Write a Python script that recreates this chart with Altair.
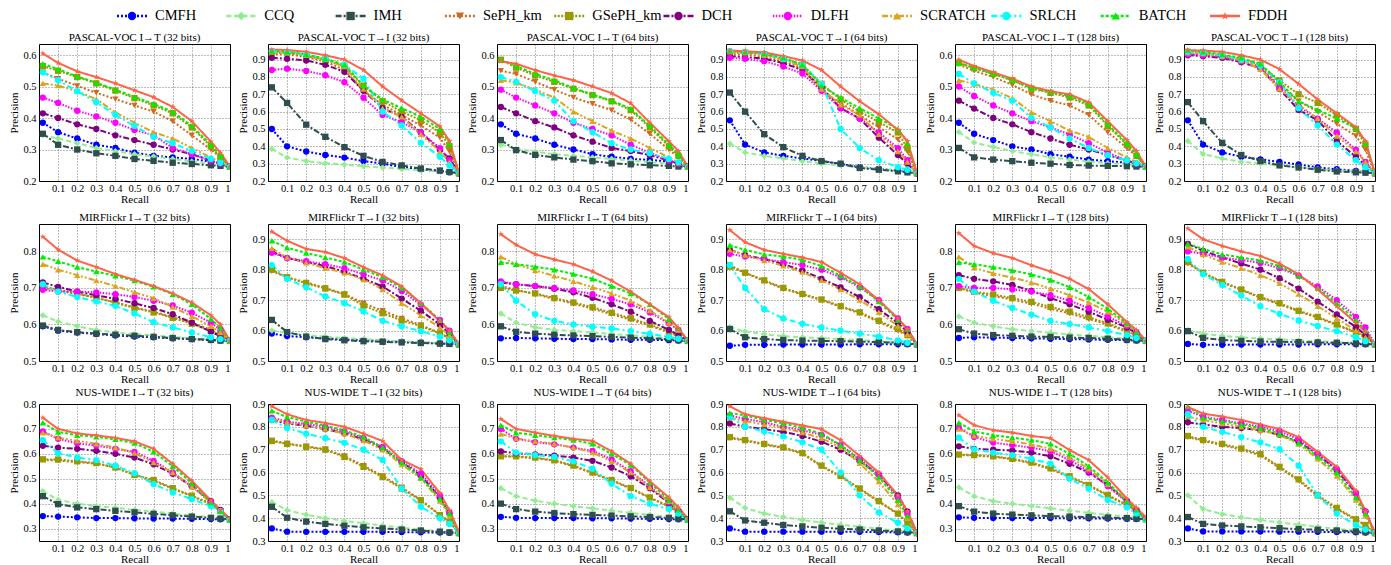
import altair as alt
import pandas as pd

methods = ["CMFH", "CCQ", "IMH", "SePH_km", "GSePH_km", "DCH", "DLFH", "SCRATCH", "SRLCH", "BATCH", "FDDH"]
colors = ["#0000FF", "#90EE90", "#2F4F4F", "#D2691E", "#999900", "#800080", "#FF00FF", "#DAA520", "#00FFFF", "#00EE00", "#FF6347"]
dashes = [[2, 2], [5, 3], [6, 2, 2, 2], [2, 2], [2, 1.5], [6, 2, 2, 2], [1.5, 1.5], [6, 2, 2, 2, 2, 2], [6, 3, 2, 3], [3, 2], [1, 0]]
STAR = "M0,-1L0.235,-0.324L0.951,-0.309L0.38,0.124L0.588,0.809L0,0.4L-0.588,0.809L-0.38,0.124L-0.951,-0.309L-0.235,-0.324Z"
shapes = ["circle", "diamond", "square", "triangle-down", "square", "circle", "circle", "triangle-up", "circle", "triangle-up", STAR]

recall = [0.02, 0.1, 0.2, 0.3, 0.4, 0.5, 0.6, 0.7, 0.8, 0.9, 0.95, 1.0]
x_ticks = [0.1, 0.2, 0.3, 0.4, 0.5, 0.6, 0.7, 0.8, 0.9, 1.0]

# ---------------- PASCAL-VOC ----------------
pascal_i2t_32 = {
    "CMFH": [0.385, 0.355, 0.335, 0.315, 0.305, 0.29, 0.28, 0.275, 0.27, 0.262, 0.255, 0.245],
    "CCQ": [0.345, 0.335, 0.32, 0.305, 0.295, 0.285, 0.278, 0.27, 0.262, 0.255, 0.25, 0.245],
    "IMH": [0.35, 0.315, 0.3, 0.288, 0.28, 0.27, 0.264, 0.258, 0.254, 0.25, 0.248, 0.245],
    "SePH_km": [0.545, 0.525, 0.502, 0.48, 0.46, 0.44, 0.42, 0.39, 0.345, 0.3, 0.275, 0.245],
    "GSePH_km": [0.565, 0.55, 0.53, 0.51, 0.487, 0.463, 0.44, 0.415, 0.37, 0.31, 0.275, 0.245],
    "DCH": [0.415, 0.4, 0.38, 0.365, 0.345, 0.33, 0.315, 0.3, 0.285, 0.265, 0.255, 0.245],
    "DLFH": [0.465, 0.448, 0.423, 0.405, 0.385, 0.362, 0.345, 0.305, 0.285, 0.265, 0.255, 0.245],
    "SCRATCH": [0.51, 0.503, 0.485, 0.46, 0.418, 0.385, 0.355, 0.335, 0.305, 0.275, 0.26, 0.245],
    "SRLCH": [0.545, 0.52, 0.485, 0.45, 0.41, 0.375, 0.34, 0.32, 0.295, 0.27, 0.258, 0.245],
    "BATCH": [0.572, 0.555, 0.532, 0.512, 0.49, 0.467, 0.445, 0.42, 0.375, 0.315, 0.28, 0.245],
    "FDDH": [0.605, 0.575, 0.548, 0.53, 0.51, 0.488, 0.466, 0.435, 0.39, 0.325, 0.29, 0.245],
}
pascal_t2i_32 = {
    "CMFH": [0.5, 0.4, 0.37, 0.35, 0.335, 0.315, 0.3, 0.28, 0.268, 0.258, 0.25, 0.245],
    "CCQ": [0.385, 0.335, 0.315, 0.302, 0.295, 0.285, 0.278, 0.27, 0.262, 0.255, 0.25, 0.245],
    "IMH": [0.74, 0.65, 0.525, 0.455, 0.395, 0.345, 0.31, 0.29, 0.272, 0.26, 0.252, 0.245],
    "SePH_km": [0.93, 0.93, 0.915, 0.89, 0.84, 0.72, 0.64, 0.58, 0.52, 0.45, 0.37, 0.245],
    "GSePH_km": [0.94, 0.94, 0.92, 0.9, 0.86, 0.75, 0.66, 0.6, 0.55, 0.48, 0.4, 0.245],
    "DCH": [0.91, 0.905, 0.895, 0.87, 0.83, 0.72, 0.62, 0.57, 0.48, 0.38, 0.33, 0.245],
    "DLFH": [0.84, 0.848, 0.835, 0.81, 0.77, 0.68, 0.58, 0.54, 0.48, 0.39, 0.32, 0.245],
    "SCRATCH": [0.945, 0.94, 0.925, 0.9, 0.86, 0.73, 0.62, 0.57, 0.47, 0.37, 0.31, 0.245],
    "SRLCH": [0.95, 0.945, 0.93, 0.905, 0.87, 0.79, 0.6, 0.52, 0.42, 0.34, 0.29, 0.245],
    "BATCH": [0.95, 0.945, 0.93, 0.905, 0.87, 0.75, 0.67, 0.62, 0.57, 0.5, 0.42, 0.245],
    "FDDH": [0.958, 0.955, 0.945, 0.925, 0.9, 0.84, 0.745, 0.665, 0.59, 0.515, 0.43, 0.245],
}
pascal_i2t_64 = {
    "CMFH": [0.38, 0.35, 0.335, 0.315, 0.3, 0.285, 0.277, 0.27, 0.267, 0.262, 0.255, 0.245],
    "CCQ": [0.315, 0.302, 0.293, 0.285, 0.28, 0.275, 0.27, 0.265, 0.26, 0.255, 0.25, 0.245],
    "IMH": [0.33, 0.298, 0.283, 0.275, 0.268, 0.263, 0.256, 0.253, 0.25, 0.248, 0.246, 0.245],
    "SePH_km": [0.55, 0.54, 0.515, 0.49, 0.465, 0.445, 0.425, 0.395, 0.35, 0.3, 0.275, 0.245],
    "GSePH_km": [0.585, 0.56, 0.535, 0.515, 0.493, 0.473, 0.453, 0.425, 0.37, 0.31, 0.28, 0.245],
    "DCH": [0.435, 0.415, 0.39, 0.37, 0.345, 0.325, 0.305, 0.295, 0.282, 0.265, 0.255, 0.245],
    "DLFH": [0.49, 0.465, 0.44, 0.415, 0.385, 0.365, 0.345, 0.315, 0.29, 0.265, 0.255, 0.245],
    "SCRATCH": [0.52, 0.512, 0.49, 0.465, 0.42, 0.39, 0.36, 0.335, 0.305, 0.275, 0.258, 0.245],
    "SRLCH": [0.53, 0.515, 0.485, 0.455, 0.39, 0.355, 0.32, 0.3, 0.288, 0.27, 0.26, 0.245],
    "BATCH": [0.585, 0.565, 0.54, 0.52, 0.495, 0.475, 0.455, 0.43, 0.375, 0.315, 0.285, 0.245],
    "FDDH": [0.58, 0.572, 0.552, 0.535, 0.52, 0.5, 0.479, 0.447, 0.385, 0.326, 0.295, 0.245],
}
pascal_t2i_64 = {
    "CMFH": [0.55, 0.41, 0.365, 0.345, 0.33, 0.315, 0.298, 0.28, 0.27, 0.26, 0.252, 0.245],
    "CCQ": [0.415, 0.365, 0.345, 0.33, 0.315, 0.3, 0.29, 0.28, 0.27, 0.26, 0.252, 0.245],
    "IMH": [0.71, 0.6, 0.47, 0.395, 0.345, 0.315, 0.3, 0.275, 0.265, 0.256, 0.25, 0.245],
    "SePH_km": [0.93, 0.93, 0.915, 0.89, 0.85, 0.72, 0.65, 0.58, 0.51, 0.44, 0.37, 0.245],
    "GSePH_km": [0.94, 0.94, 0.93, 0.905, 0.87, 0.76, 0.67, 0.6, 0.54, 0.48, 0.39, 0.245],
    "DCH": [0.92, 0.915, 0.905, 0.88, 0.84, 0.74, 0.62, 0.56, 0.45, 0.35, 0.3, 0.245],
    "DLFH": [0.91, 0.905, 0.89, 0.86, 0.82, 0.72, 0.62, 0.56, 0.48, 0.39, 0.32, 0.245],
    "SCRATCH": [0.945, 0.94, 0.925, 0.9, 0.86, 0.73, 0.64, 0.58, 0.47, 0.37, 0.31, 0.245],
    "SRLCH": [0.95, 0.945, 0.935, 0.905, 0.87, 0.76, 0.5, 0.39, 0.32, 0.28, 0.265, 0.245],
    "BATCH": [0.95, 0.945, 0.935, 0.91, 0.87, 0.75, 0.68, 0.62, 0.56, 0.5, 0.42, 0.245],
    "FDDH": [0.952, 0.948, 0.942, 0.92, 0.895, 0.84, 0.745, 0.66, 0.585, 0.495, 0.43, 0.245],
}
pascal_i2t_128 = {
    "CMFH": [0.385, 0.35, 0.33, 0.31, 0.3, 0.285, 0.277, 0.268, 0.263, 0.258, 0.252, 0.245],
    "CCQ": [0.355, 0.322, 0.308, 0.295, 0.285, 0.275, 0.268, 0.262, 0.257, 0.253, 0.25, 0.245],
    "IMH": [0.305, 0.275, 0.268, 0.263, 0.258, 0.255, 0.251, 0.249, 0.248, 0.247, 0.246, 0.245],
    "SePH_km": [0.57, 0.55, 0.53, 0.505, 0.475, 0.455, 0.44, 0.41, 0.355, 0.305, 0.278, 0.245],
    "GSePH_km": [0.575, 0.558, 0.54, 0.52, 0.493, 0.48, 0.465, 0.44, 0.375, 0.315, 0.28, 0.245],
    "DCH": [0.455, 0.43, 0.4, 0.38, 0.355, 0.335, 0.315, 0.3, 0.282, 0.265, 0.255, 0.245],
    "DLFH": [0.5, 0.47, 0.44, 0.415, 0.39, 0.37, 0.348, 0.32, 0.29, 0.265, 0.255, 0.245],
    "SCRATCH": [0.52, 0.508, 0.49, 0.463, 0.418, 0.39, 0.36, 0.34, 0.305, 0.275, 0.26, 0.245],
    "SRLCH": [0.54, 0.51, 0.48, 0.455, 0.4, 0.37, 0.335, 0.305, 0.282, 0.265, 0.256, 0.245],
    "BATCH": [0.575, 0.56, 0.54, 0.52, 0.495, 0.483, 0.47, 0.445, 0.38, 0.32, 0.285, 0.245],
    "FDDH": [0.585, 0.565, 0.545, 0.525, 0.5, 0.485, 0.475, 0.45, 0.39, 0.33, 0.295, 0.245],
}
pascal_t2i_128 = {
    "CMFH": [0.55, 0.41, 0.365, 0.34, 0.325, 0.31, 0.295, 0.278, 0.268, 0.258, 0.25, 0.245],
    "CCQ": [0.43, 0.355, 0.33, 0.31, 0.3, 0.29, 0.28, 0.27, 0.262, 0.255, 0.25, 0.245],
    "IMH": [0.655, 0.545, 0.42, 0.35, 0.315, 0.29, 0.278, 0.265, 0.255, 0.25, 0.248, 0.245],
    "SePH_km": [0.935, 0.93, 0.915, 0.895, 0.86, 0.75, 0.66, 0.6, 0.53, 0.46, 0.38, 0.245],
    "GSePH_km": [0.945, 0.94, 0.925, 0.905, 0.87, 0.78, 0.7, 0.65, 0.58, 0.5, 0.41, 0.245],
    "DCH": [0.925, 0.92, 0.91, 0.885, 0.85, 0.73, 0.61, 0.55, 0.43, 0.34, 0.29, 0.245],
    "DLFH": [0.93, 0.925, 0.915, 0.89, 0.85, 0.74, 0.63, 0.56, 0.48, 0.38, 0.31, 0.245],
    "SCRATCH": [0.94, 0.935, 0.92, 0.895, 0.845, 0.73, 0.64, 0.56, 0.46, 0.37, 0.31, 0.245],
    "SRLCH": [0.945, 0.94, 0.925, 0.9, 0.865, 0.77, 0.62, 0.52, 0.41, 0.32, 0.28, 0.245],
    "BATCH": [0.955, 0.945, 0.93, 0.91, 0.875, 0.77, 0.66, 0.61, 0.56, 0.505, 0.42, 0.245],
    "FDDH": [0.955, 0.952, 0.945, 0.925, 0.9, 0.845, 0.76, 0.67, 0.59, 0.51, 0.43, 0.245],
}

# ---------------- MIRFlickr ----------------
mir_i2t_32 = {
    "CMFH": [0.595, 0.583, 0.578, 0.574, 0.57, 0.567, 0.565, 0.562, 0.56, 0.557, 0.556, 0.555],
    "CCQ": [0.625, 0.608, 0.595, 0.585, 0.578, 0.574, 0.57, 0.566, 0.562, 0.559, 0.557, 0.555],
    "IMH": [0.597, 0.585, 0.579, 0.575, 0.572, 0.569, 0.566, 0.563, 0.56, 0.558, 0.556, 0.555],
    "SePH_km": [0.7, 0.693, 0.683, 0.673, 0.66, 0.647, 0.635, 0.62, 0.605, 0.585, 0.572, 0.555],
    "GSePH_km": [0.705, 0.695, 0.685, 0.673, 0.66, 0.645, 0.633, 0.618, 0.602, 0.583, 0.57, 0.555],
    "DCH": [0.715, 0.703, 0.69, 0.68, 0.67, 0.658, 0.645, 0.628, 0.605, 0.58, 0.568, 0.555],
    "DLFH": [0.695, 0.69, 0.69, 0.688, 0.683, 0.675, 0.665, 0.652, 0.632, 0.605, 0.585, 0.555],
    "SCRATCH": [0.765, 0.75, 0.735, 0.72, 0.705, 0.688, 0.672, 0.648, 0.622, 0.595, 0.578, 0.555],
    "SRLCH": [0.71, 0.69, 0.675, 0.663, 0.651, 0.63, 0.606, 0.592, 0.578, 0.565, 0.56, 0.555],
    "BATCH": [0.785, 0.773, 0.757, 0.745, 0.733, 0.72, 0.703, 0.683, 0.655, 0.615, 0.59, 0.555],
    "FDDH": [0.84, 0.805, 0.775, 0.757, 0.738, 0.722, 0.705, 0.685, 0.66, 0.625, 0.6, 0.555],
}
mir_t2i_32 = {
    "CMFH": [0.59, 0.582, 0.578, 0.574, 0.571, 0.568, 0.565, 0.563, 0.561, 0.558, 0.556, 0.555],
    "CCQ": [0.6, 0.592, 0.585, 0.58, 0.575, 0.572, 0.568, 0.565, 0.562, 0.559, 0.557, 0.555],
    "IMH": [0.635, 0.595, 0.58, 0.572, 0.568, 0.565, 0.563, 0.561, 0.559, 0.557, 0.556, 0.555],
    "SePH_km": [0.795, 0.775, 0.758, 0.74, 0.72, 0.69, 0.665, 0.64, 0.618, 0.592, 0.575, 0.555],
    "GSePH_km": [0.8, 0.775, 0.755, 0.738, 0.718, 0.682, 0.657, 0.633, 0.615, 0.59, 0.575, 0.555],
    "DCH": [0.86, 0.838, 0.825, 0.812, 0.793, 0.77, 0.745, 0.705, 0.665, 0.62, 0.59, 0.555],
    "DLFH": [0.855, 0.838, 0.828, 0.818, 0.805, 0.785, 0.765, 0.73, 0.685, 0.635, 0.6, 0.555],
    "SCRATCH": [0.87, 0.84, 0.823, 0.805, 0.79, 0.768, 0.735, 0.69, 0.65, 0.61, 0.585, 0.555],
    "SRLCH": [0.815, 0.77, 0.742, 0.712, 0.69, 0.663, 0.632, 0.614, 0.598, 0.58, 0.568, 0.555],
    "BATCH": [0.895, 0.872, 0.855, 0.84, 0.825, 0.8, 0.775, 0.74, 0.69, 0.635, 0.595, 0.555],
    "FDDH": [0.925, 0.895, 0.868, 0.858, 0.838, 0.808, 0.781, 0.745, 0.69, 0.63, 0.6, 0.555],
}
mir_i2t_64 = {
    "CMFH": [0.562, 0.563, 0.562, 0.561, 0.56, 0.56, 0.559, 0.558, 0.558, 0.557, 0.556, 0.555],
    "CCQ": [0.63, 0.605, 0.592, 0.585, 0.582, 0.578, 0.574, 0.57, 0.566, 0.562, 0.558, 0.555],
    "IMH": [0.595, 0.58, 0.575, 0.572, 0.57, 0.568, 0.566, 0.564, 0.562, 0.56, 0.557, 0.555],
    "SePH_km": [0.705, 0.695, 0.683, 0.67, 0.657, 0.643, 0.628, 0.613, 0.597, 0.578, 0.567, 0.555],
    "GSePH_km": [0.7, 0.693, 0.685, 0.672, 0.66, 0.647, 0.632, 0.617, 0.6, 0.58, 0.568, 0.555],
    "DCH": [0.715, 0.71, 0.705, 0.698, 0.688, 0.673, 0.655, 0.635, 0.61, 0.585, 0.572, 0.555],
    "DLFH": [0.718, 0.71, 0.705, 0.7, 0.693, 0.683, 0.67, 0.655, 0.633, 0.603, 0.585, 0.555],
    "SCRATCH": [0.785, 0.765, 0.748, 0.733, 0.718, 0.702, 0.685, 0.665, 0.638, 0.605, 0.585, 0.555],
    "SRLCH": [0.71, 0.665, 0.628, 0.61, 0.6, 0.594, 0.589, 0.582, 0.574, 0.566, 0.561, 0.555],
    "BATCH": [0.77, 0.765, 0.758, 0.75, 0.738, 0.725, 0.705, 0.685, 0.655, 0.615, 0.59, 0.555],
    "FDDH": [0.847, 0.818, 0.792, 0.778, 0.765, 0.745, 0.72, 0.69, 0.655, 0.62, 0.59, 0.555],
}
mir_t2i_64 = {
    "CMFH": [0.55, 0.553, 0.553, 0.554, 0.554, 0.554, 0.554, 0.555, 0.555, 0.555, 0.555, 0.555],
    "CCQ": [0.612, 0.597, 0.588, 0.582, 0.578, 0.575, 0.572, 0.569, 0.565, 0.561, 0.558, 0.555],
    "IMH": [0.605, 0.578, 0.572, 0.569, 0.567, 0.566, 0.565, 0.564, 0.562, 0.56, 0.557, 0.555],
    "SePH_km": [0.815, 0.79, 0.762, 0.738, 0.718, 0.7, 0.678, 0.657, 0.628, 0.6, 0.582, 0.555],
    "GSePH_km": [0.81, 0.79, 0.765, 0.74, 0.72, 0.702, 0.68, 0.66, 0.632, 0.605, 0.585, 0.555],
    "DCH": [0.865, 0.848, 0.835, 0.818, 0.797, 0.77, 0.742, 0.71, 0.67, 0.625, 0.595, 0.555],
    "DLFH": [0.852, 0.843, 0.835, 0.825, 0.815, 0.8, 0.775, 0.742, 0.7, 0.64, 0.605, 0.555],
    "SCRATCH": [0.865, 0.848, 0.83, 0.813, 0.792, 0.765, 0.735, 0.7, 0.66, 0.615, 0.588, 0.555],
    "SRLCH": [0.815, 0.74, 0.67, 0.64, 0.622, 0.61, 0.6, 0.59, 0.58, 0.568, 0.56, 0.555],
    "BATCH": [0.88, 0.865, 0.85, 0.843, 0.832, 0.812, 0.78, 0.745, 0.695, 0.635, 0.605, 0.555],
    "FDDH": [0.93, 0.89, 0.865, 0.852, 0.84, 0.825, 0.79, 0.752, 0.7, 0.64, 0.605, 0.555],
}
mir_i2t_128 = {
    "CMFH": [0.563, 0.565, 0.564, 0.563, 0.562, 0.561, 0.56, 0.559, 0.558, 0.557, 0.556, 0.555],
    "CCQ": [0.622, 0.605, 0.595, 0.587, 0.582, 0.577, 0.573, 0.569, 0.565, 0.561, 0.558, 0.555],
    "IMH": [0.587, 0.575, 0.571, 0.569, 0.567, 0.566, 0.564, 0.563, 0.561, 0.559, 0.557, 0.555],
    "SePH_km": [0.7, 0.687, 0.678, 0.668, 0.657, 0.643, 0.63, 0.615, 0.6, 0.58, 0.568, 0.555],
    "GSePH_km": [0.7, 0.69, 0.682, 0.672, 0.662, 0.648, 0.635, 0.62, 0.603, 0.583, 0.57, 0.555],
    "DCH": [0.735, 0.725, 0.718, 0.708, 0.692, 0.672, 0.655, 0.635, 0.613, 0.592, 0.575, 0.555],
    "DLFH": [0.705, 0.7, 0.7, 0.696, 0.69, 0.68, 0.665, 0.645, 0.622, 0.596, 0.578, 0.555],
    "SCRATCH": [0.785, 0.755, 0.74, 0.728, 0.715, 0.698, 0.68, 0.66, 0.635, 0.6, 0.58, 0.555],
    "SRLCH": [0.725, 0.69, 0.665, 0.645, 0.627, 0.61, 0.601, 0.592, 0.582, 0.571, 0.563, 0.555],
    "BATCH": [0.77, 0.765, 0.757, 0.748, 0.737, 0.722, 0.702, 0.675, 0.643, 0.603, 0.58, 0.555],
    "FDDH": [0.85, 0.815, 0.795, 0.782, 0.762, 0.745, 0.725, 0.697, 0.655, 0.607, 0.585, 0.555],
}
mir_t2i_128 = {
    "CMFH": [0.556, 0.553, 0.553, 0.554, 0.554, 0.554, 0.554, 0.555, 0.555, 0.555, 0.555, 0.555],
    "CCQ": [0.602, 0.59, 0.582, 0.578, 0.574, 0.571, 0.568, 0.565, 0.562, 0.559, 0.557, 0.555],
    "IMH": [0.598, 0.576, 0.569, 0.566, 0.564, 0.563, 0.562, 0.561, 0.56, 0.558, 0.556, 0.555],
    "SePH_km": [0.82, 0.79, 0.758, 0.733, 0.708, 0.686, 0.663, 0.642, 0.618, 0.593, 0.577, 0.555],
    "GSePH_km": [0.825, 0.79, 0.76, 0.735, 0.71, 0.69, 0.665, 0.645, 0.62, 0.595, 0.578, 0.555],
    "DCH": [0.885, 0.862, 0.84, 0.82, 0.8, 0.772, 0.738, 0.695, 0.653, 0.612, 0.585, 0.555],
    "DLFH": [0.86, 0.852, 0.84, 0.832, 0.822, 0.805, 0.78, 0.745, 0.7, 0.645, 0.61, 0.555],
    "SCRATCH": [0.875, 0.85, 0.825, 0.805, 0.782, 0.755, 0.72, 0.68, 0.64, 0.6, 0.578, 0.555],
    "SRLCH": [0.835, 0.785, 0.75, 0.715, 0.68, 0.655, 0.633, 0.615, 0.598, 0.578, 0.565, 0.555],
    "BATCH": [0.885, 0.868, 0.85, 0.84, 0.83, 0.812, 0.78, 0.74, 0.69, 0.635, 0.6, 0.555],
    "FDDH": [0.935, 0.9, 0.878, 0.86, 0.845, 0.82, 0.785, 0.735, 0.68, 0.625, 0.595, 0.555],
}

# ---------------- NUS-WIDE ----------------
nus_i2t_32 = {
    "CMFH": [0.35, 0.348, 0.345, 0.342, 0.342, 0.341, 0.34, 0.34, 0.339, 0.338, 0.337, 0.336],
    "CCQ": [0.45, 0.415, 0.4, 0.39, 0.383, 0.375, 0.368, 0.36, 0.352, 0.346, 0.342, 0.338],
    "IMH": [0.43, 0.398, 0.385, 0.378, 0.371, 0.365, 0.359, 0.353, 0.348, 0.343, 0.34, 0.337],
    "SePH_km": [0.575, 0.573, 0.567, 0.56, 0.545, 0.515, 0.492, 0.46, 0.43, 0.398, 0.368, 0.335],
    "GSePH_km": [0.578, 0.577, 0.57, 0.563, 0.545, 0.515, 0.495, 0.462, 0.432, 0.4, 0.37, 0.335],
    "DCH": [0.632, 0.625, 0.62, 0.612, 0.6, 0.585, 0.558, 0.52, 0.47, 0.41, 0.375, 0.335],
    "DLFH": [0.69, 0.66, 0.642, 0.633, 0.62, 0.608, 0.572, 0.525, 0.47, 0.405, 0.37, 0.335],
    "SCRATCH": [0.685, 0.665, 0.652, 0.64, 0.625, 0.603, 0.565, 0.525, 0.468, 0.405, 0.37, 0.335],
    "SRLCH": [0.655, 0.602, 0.585, 0.575, 0.552, 0.522, 0.478, 0.445, 0.418, 0.39, 0.37, 0.335],
    "BATCH": [0.725, 0.688, 0.675, 0.668, 0.658, 0.643, 0.608, 0.55, 0.482, 0.405, 0.37, 0.335],
    "FDDH": [0.745, 0.7, 0.682, 0.674, 0.664, 0.65, 0.62, 0.56, 0.492, 0.413, 0.375, 0.34],
}
nus_t2i_32 = {
    "CMFH": [0.355, 0.341, 0.34, 0.34, 0.34, 0.34, 0.34, 0.339, 0.338, 0.337, 0.336, 0.335],
    "CCQ": [0.47, 0.435, 0.415, 0.4, 0.388, 0.378, 0.368, 0.358, 0.35, 0.343, 0.339, 0.335],
    "IMH": [0.45, 0.402, 0.385, 0.375, 0.367, 0.36, 0.355, 0.35, 0.346, 0.341, 0.338, 0.335],
    "SePH_km": [0.74, 0.727, 0.715, 0.702, 0.672, 0.63, 0.585, 0.535, 0.48, 0.415, 0.385, 0.335],
    "GSePH_km": [0.738, 0.725, 0.712, 0.7, 0.668, 0.625, 0.58, 0.53, 0.478, 0.413, 0.383, 0.335],
    "DCH": [0.83, 0.815, 0.805, 0.79, 0.772, 0.745, 0.705, 0.645, 0.588, 0.49, 0.42, 0.335],
    "DLFH": [0.84, 0.823, 0.813, 0.8, 0.78, 0.75, 0.712, 0.65, 0.595, 0.5, 0.425, 0.335],
    "SCRATCH": [0.835, 0.82, 0.805, 0.79, 0.77, 0.74, 0.7, 0.635, 0.575, 0.475, 0.41, 0.335],
    "SRLCH": [0.83, 0.795, 0.77, 0.75, 0.73, 0.7, 0.655, 0.53, 0.45, 0.4, 0.375, 0.335],
    "BATCH": [0.87, 0.843, 0.823, 0.805, 0.785, 0.755, 0.71, 0.645, 0.578, 0.485, 0.42, 0.335],
    "FDDH": [0.89, 0.855, 0.83, 0.817, 0.8, 0.77, 0.738, 0.655, 0.615, 0.51, 0.435, 0.34],
}
nus_i2t_64 = {
    "CMFH": [0.347, 0.343, 0.342, 0.342, 0.342, 0.341, 0.341, 0.34, 0.339, 0.338, 0.337, 0.336],
    "CCQ": [0.462, 0.43, 0.412, 0.4, 0.39, 0.381, 0.372, 0.363, 0.355, 0.347, 0.342, 0.338],
    "IMH": [0.4, 0.378, 0.368, 0.362, 0.358, 0.355, 0.352, 0.349, 0.346, 0.343, 0.34, 0.337],
    "SePH_km": [0.59, 0.588, 0.582, 0.572, 0.55, 0.522, 0.492, 0.46, 0.423, 0.388, 0.363, 0.335],
    "GSePH_km": [0.59, 0.59, 0.585, 0.574, 0.553, 0.525, 0.495, 0.463, 0.425, 0.39, 0.365, 0.335],
    "DCH": [0.61, 0.602, 0.598, 0.593, 0.585, 0.572, 0.545, 0.51, 0.462, 0.402, 0.368, 0.335],
    "DLFH": [0.7, 0.66, 0.647, 0.638, 0.625, 0.612, 0.578, 0.53, 0.47, 0.405, 0.37, 0.335],
    "SCRATCH": [0.68, 0.662, 0.65, 0.64, 0.625, 0.605, 0.57, 0.525, 0.465, 0.41, 0.37, 0.335],
    "SRLCH": [0.65, 0.605, 0.595, 0.588, 0.57, 0.54, 0.48, 0.43, 0.4, 0.378, 0.36, 0.335],
    "BATCH": [0.715, 0.685, 0.675, 0.665, 0.655, 0.64, 0.6, 0.555, 0.485, 0.415, 0.375, 0.335],
    "FDDH": [0.74, 0.7, 0.685, 0.672, 0.66, 0.652, 0.61, 0.56, 0.49, 0.425, 0.385, 0.34],
}
nus_t2i_64 = {
    "CMFH": [0.355, 0.341, 0.341, 0.341, 0.341, 0.341, 0.34, 0.34, 0.339, 0.338, 0.337, 0.335],
    "CCQ": [0.49, 0.445, 0.42, 0.405, 0.392, 0.381, 0.371, 0.362, 0.353, 0.346, 0.34, 0.335],
    "IMH": [0.43, 0.39, 0.38, 0.37, 0.364, 0.358, 0.354, 0.35, 0.346, 0.342, 0.339, 0.335],
    "SePH_km": [0.75, 0.74, 0.722, 0.707, 0.682, 0.627, 0.582, 0.527, 0.472, 0.418, 0.378, 0.335],
    "GSePH_km": [0.755, 0.742, 0.725, 0.71, 0.685, 0.63, 0.585, 0.53, 0.475, 0.42, 0.38, 0.335],
    "DCH": [0.815, 0.8, 0.79, 0.778, 0.76, 0.735, 0.7, 0.65, 0.59, 0.5, 0.43, 0.335],
    "DLFH": [0.85, 0.835, 0.82, 0.8, 0.785, 0.765, 0.72, 0.66, 0.59, 0.49, 0.42, 0.335],
    "SCRATCH": [0.84, 0.825, 0.81, 0.795, 0.775, 0.75, 0.71, 0.64, 0.56, 0.46, 0.4, 0.335],
    "SRLCH": [0.845, 0.8, 0.78, 0.758, 0.732, 0.7, 0.6, 0.5, 0.425, 0.38, 0.355, 0.335],
    "BATCH": [0.86, 0.85, 0.83, 0.815, 0.795, 0.77, 0.72, 0.655, 0.58, 0.48, 0.41, 0.335],
    "FDDH": [0.89, 0.855, 0.838, 0.822, 0.806, 0.79, 0.742, 0.672, 0.6, 0.5, 0.43, 0.335],
}
nus_i2t_128 = {
    "CMFH": [0.345, 0.343, 0.342, 0.342, 0.342, 0.342, 0.341, 0.341, 0.34, 0.339, 0.338, 0.337],
    "CCQ": [0.465, 0.43, 0.41, 0.4, 0.39, 0.381, 0.372, 0.363, 0.355, 0.347, 0.342, 0.338],
    "IMH": [0.39, 0.368, 0.36, 0.356, 0.353, 0.35, 0.348, 0.346, 0.344, 0.342, 0.34, 0.338],
    "SePH_km": [0.595, 0.593, 0.588, 0.578, 0.562, 0.538, 0.507, 0.472, 0.432, 0.393, 0.368, 0.337],
    "GSePH_km": [0.597, 0.595, 0.59, 0.58, 0.565, 0.542, 0.51, 0.475, 0.435, 0.395, 0.37, 0.338],
    "DCH": [0.63, 0.62, 0.617, 0.613, 0.605, 0.59, 0.56, 0.525, 0.475, 0.41, 0.372, 0.338],
    "DLFH": [0.705, 0.668, 0.645, 0.635, 0.625, 0.61, 0.575, 0.53, 0.47, 0.405, 0.37, 0.338],
    "SCRATCH": [0.7, 0.672, 0.66, 0.65, 0.638, 0.62, 0.585, 0.54, 0.478, 0.412, 0.372, 0.338],
    "SRLCH": [0.665, 0.618, 0.605, 0.595, 0.58, 0.56, 0.5, 0.46, 0.415, 0.385, 0.36, 0.335],
    "BATCH": [0.725, 0.69, 0.675, 0.665, 0.655, 0.64, 0.6, 0.55, 0.485, 0.41, 0.375, 0.34],
    "FDDH": [0.755, 0.715, 0.695, 0.685, 0.672, 0.663, 0.615, 0.575, 0.505, 0.42, 0.383, 0.345],
}
nus_t2i_128 = {
    "CMFH": [0.355, 0.342, 0.342, 0.342, 0.342, 0.341, 0.341, 0.34, 0.339, 0.338, 0.337, 0.335],
    "CCQ": [0.5, 0.44, 0.418, 0.404, 0.392, 0.381, 0.371, 0.362, 0.353, 0.346, 0.34, 0.335],
    "IMH": [0.405, 0.375, 0.368, 0.364, 0.36, 0.356, 0.352, 0.349, 0.346, 0.342, 0.339, 0.335],
    "SePH_km": [0.755, 0.738, 0.72, 0.7, 0.675, 0.62, 0.565, 0.495, 0.44, 0.392, 0.368, 0.335],
    "GSePH_km": [0.76, 0.742, 0.725, 0.705, 0.68, 0.625, 0.57, 0.5, 0.445, 0.395, 0.37, 0.335],
    "DCH": [0.82, 0.81, 0.8, 0.795, 0.785, 0.765, 0.735, 0.68, 0.61, 0.51, 0.43, 0.335],
    "DLFH": [0.87, 0.845, 0.83, 0.815, 0.8, 0.78, 0.745, 0.68, 0.615, 0.51, 0.43, 0.335],
    "SCRATCH": [0.845, 0.83, 0.815, 0.8, 0.785, 0.765, 0.725, 0.66, 0.585, 0.48, 0.41, 0.335],
    "SRLCH": [0.855, 0.8, 0.778, 0.755, 0.732, 0.702, 0.63, 0.5, 0.42, 0.37, 0.35, 0.335],
    "BATCH": [0.89, 0.84, 0.825, 0.81, 0.795, 0.77, 0.73, 0.67, 0.6, 0.49, 0.42, 0.335],
    "FDDH": [0.887, 0.858, 0.845, 0.83, 0.81, 0.79, 0.755, 0.69, 0.625, 0.52, 0.43, 0.335],
}

# panel title, data, y-domain, y tick labels
panels = [
    ("PASCAL-VOC I\u2192T (32 bits)", pascal_i2t_32, [0.2, 0.635], [0.2, 0.3, 0.4, 0.5, 0.6]),
    ("PASCAL-VOC T\u2192I (32 bits)", pascal_t2i_32, [0.2, 0.99], [0.2, 0.3, 0.4, 0.5, 0.6, 0.7, 0.8, 0.9]),
    ("PASCAL-VOC I\u2192T (64 bits)", pascal_i2t_64, [0.2, 0.635], [0.2, 0.3, 0.4, 0.5, 0.6]),
    ("PASCAL-VOC T\u2192I (64 bits)", pascal_t2i_64, [0.2, 0.99], [0.2, 0.3, 0.4, 0.5, 0.6, 0.7, 0.8, 0.9]),
    ("PASCAL-VOC I\u2192T (128 bits)", pascal_i2t_128, [0.2, 0.635], [0.2, 0.3, 0.4, 0.5, 0.6]),
    ("PASCAL-VOC T\u2192I (128 bits)", pascal_t2i_128, [0.2, 0.99], [0.2, 0.3, 0.4, 0.5, 0.6, 0.7, 0.8, 0.9]),
    ("MIRFlickr I\u2192T (32 bits)", mir_i2t_32, [0.5, 0.875], [0.5, 0.6, 0.7, 0.8]),
    ("MIRFlickr T\u2192I (32 bits)", mir_t2i_32, [0.5, 0.95], [0.5, 0.6, 0.7, 0.8, 0.9]),
    ("MIRFlickr I\u2192T (64 bits)", mir_i2t_64, [0.5, 0.875], [0.5, 0.6, 0.7, 0.8]),
    ("MIRFlickr T\u2192I (64 bits)", mir_t2i_64, [0.5, 0.95], [0.5, 0.6, 0.7, 0.8, 0.9]),
    ("MIRFlickr I\u2192T (128 bits)", mir_i2t_128, [0.5, 0.875], [0.5, 0.6, 0.7, 0.8]),
    ("MIRFlickr T\u2192I (128 bits)", mir_t2i_128, [0.5, 0.95], [0.5, 0.6, 0.7, 0.8, 0.9]),
    ("NUS-WIDE I\u2192T (32 bits)", nus_i2t_32, [0.25, 0.8], [0.3, 0.4, 0.5, 0.6, 0.7, 0.8]),
    ("NUS-WIDE T\u2192I (32 bits)", nus_t2i_32, [0.3, 0.9], [0.3, 0.4, 0.5, 0.6, 0.7, 0.8, 0.9]),
    ("NUS-WIDE I\u2192T (64 bits)", nus_i2t_64, [0.25, 0.8], [0.3, 0.4, 0.5, 0.6, 0.7, 0.8]),
    ("NUS-WIDE T\u2192I (64 bits)", nus_t2i_64, [0.3, 0.9], [0.3, 0.4, 0.5, 0.6, 0.7, 0.8, 0.9]),
    ("NUS-WIDE I\u2192T (128 bits)", nus_i2t_128, [0.25, 0.8], [0.3, 0.4, 0.5, 0.6, 0.7, 0.8]),
    ("NUS-WIDE T\u2192I (128 bits)", nus_t2i_128, [0.3, 0.9], [0.3, 0.4, 0.5, 0.6, 0.7, 0.8, 0.9]),
]

FONT = "Liberation Serif"
color_scale = alt.Scale(domain=methods, range=colors)
dash_scale = alt.Scale(domain=methods, range=dashes)
shape_scale = alt.Scale(domain=methods, range=shapes)


def make_panel(title, data, ydom, yticks):
    rows = []
    for m in methods:
        for r, p in zip(recall, data[m]):
            rows.append({"method": m, "recall": r, "precision": p})
    df = pd.DataFrame(rows)
    base = alt.Chart(df).encode(
        x=alt.X("recall:Q", scale=alt.Scale(domain=[0, 1], nice=False),
                axis=alt.Axis(values=x_ticks, format="~g", title="Recall")),
        y=alt.Y("precision:Q", scale=alt.Scale(domain=ydom, nice=False, zero=False),
                axis=alt.Axis(values=yticks, format="~g", title="Precision")),
        color=alt.Color("method:N", scale=color_scale, legend=None),
    )
    lines = base.mark_line(strokeWidth=2, clip=True).encode(
        strokeDash=alt.StrokeDash("method:N", scale=dash_scale, legend=None)
    )
    pts = base.mark_point(filled=True, size=40, opacity=1, clip=True).encode(
        shape=alt.Shape("method:N", scale=shape_scale, legend=None)
    )
    return alt.layer(lines, pts).properties(
        width=191, height=137,
        title=alt.TitleParams(title, font=FONT, fontSize=11, fontWeight="normal", offset=1, color="black"),
    )


grid = alt.concat(*[make_panel(*p) for p in panels], columns=6,
                  spacing={"row": 43, "column": 38}, bounds="flush")

# legend row
leg_df = pd.DataFrame({"method": methods})
lx = alt.X("method:N", scale=alt.Scale(type="point", domain=methods, range=[93, 1186], padding=0), axis=None)
leg_base = alt.Chart(leg_df).encode(
    x=lx, y=alt.value(11),
    color=alt.Color("method:N", scale=color_scale, legend=None),
)
leg_rule = leg_base.mark_rule(strokeWidth=2.4, xOffset=-15, x2Offset=15).encode(
    x2=alt.X2("method:N"),
    strokeDash=alt.StrokeDash("method:N", scale=dash_scale, legend=None),
)
leg_pts = leg_base.mark_point(filled=True, size=70, opacity=1).encode(
    shape=alt.Shape("method:N", scale=shape_scale, legend=None)
)
leg_txt = alt.Chart(leg_df).mark_text(align="left", dx=23, font=FONT, fontSize=14.5, color="black").encode(
    x=lx, y=alt.value(11), text="method:N"
)
legend_chart = alt.layer(leg_rule, leg_pts, leg_txt).properties(
    width=1250, height=22, view=alt.ViewBackground(stroke=None)
)

chart = alt.vconcat(legend_chart, grid, spacing=4).configure(
    font=FONT, padding={"left": 8, "top": 5, "right": 5, "bottom": 2}
).configure_view(
    stroke="black", strokeWidth=1
).configure_axis(
    domain=False, ticks=False, grid=True, gridColor="#000000", gridDash=[1, 2],
    gridOpacity=0.75, gridWidth=0.7,
    labelFont=FONT, labelFontSize=10.5, labelColor="black", labelPadding=3,
    titleFont=FONT, titleFontSize=11, titleFontWeight="normal", titleColor="black",
).configure_axisY(titlePadding=3).configure_axisX(titlePadding=0, labelPadding=2)

chart.save("out.html", embed_options={"renderer": "svg", "actions": False})
